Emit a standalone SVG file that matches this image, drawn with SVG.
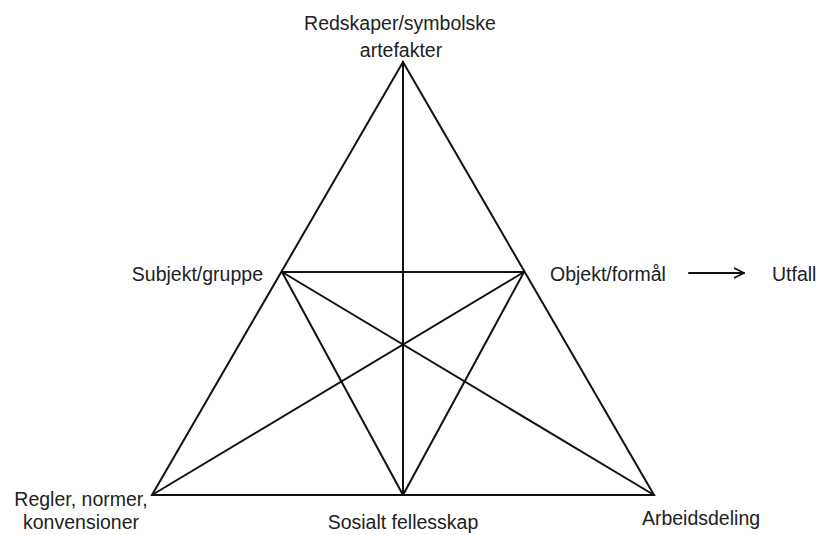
<svg xmlns="http://www.w3.org/2000/svg" width="824" height="535" viewBox="0 0 824 535">
<style>
.lbl{font-family:"Liberation Sans",Arial,sans-serif;font-size:19.5px;fill:#222}
.ln{stroke:#111;stroke-width:2;fill:none;stroke-linecap:round}
</style>
<defs>
<marker id="open" viewBox="0 0 12 12" refX="11" refY="6" markerWidth="12" markerHeight="12" markerUnits="userSpaceOnUse" orient="auto">
<path d="M1,1 L11,6 L1,11" fill="none" stroke="#111" stroke-width="1.6"/>
</marker>
</defs>
<rect width="824" height="535" fill="#fff"/>
<g id="connectors">
<polygon class="ln" points="403,62 152,495 654,495" stroke-linejoin="miter"/>
<line class="ln" x1="282" y1="272" x2="524" y2="272"/>
<line class="ln" x1="403" y1="62" x2="403" y2="495"/>
<line class="ln" x1="282" y1="272" x2="654" y2="495"/>
<line class="ln" x1="524" y1="272" x2="152" y2="495"/>
<line class="ln" x1="282" y1="272" x2="403" y2="495"/>
<line class="ln" x1="524" y1="272" x2="403" y2="495"/>
<line class="ln" x1="689" y1="273" x2="744" y2="273" marker-end="url(#open)"/>
</g>
<g id="redskaper"><text class="lbl" x="400" y="30" text-anchor="middle">Redskaper/symbolske</text><text class="lbl" x="401" y="57" text-anchor="middle">artefakter</text></g>
<g id="subjekt"><text class="lbl" x="263" y="281" text-anchor="end">Subjekt/gruppe</text></g>
<g id="objekt"><text class="lbl" x="550" y="281">Objekt/formål</text></g>
<g id="utfall"><text class="lbl" x="772" y="281">Utfall</text></g>
<g id="regler"><text class="lbl" x="81" y="506" text-anchor="middle">Regler, normer,</text><text class="lbl" x="81" y="529" text-anchor="middle">konvensioner</text></g>
<g id="sosialt"><text class="lbl" x="403" y="529" text-anchor="middle">Sosialt fellesskap</text></g>
<g id="arbeidsdeling"><text class="lbl" x="701" y="525" text-anchor="middle">Arbeidsdeling</text></g>
</svg>
